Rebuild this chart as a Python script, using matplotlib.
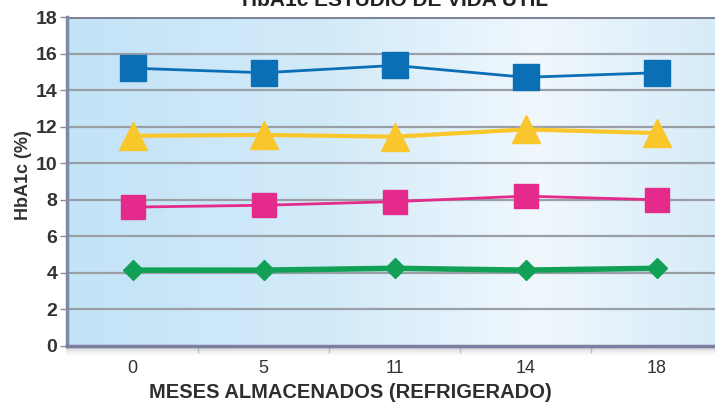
import numpy as np
import matplotlib
matplotlib.use('Agg')
import matplotlib.pyplot as plt
from matplotlib.colors import LinearSegmentedColormap

# months stored (categories on x axis)
meses = ['0', '5', '11', '14', '18']

# HbA1c (%) levels
nivel_alto = [15.2, 14.95, 15.35, 14.7, 14.95]
nivel_medio_alto = [11.5, 11.55, 11.45, 11.85, 11.65]
nivel_medio = [7.6, 7.7, 7.9, 8.2, 8.0]
nivel_bajo = [4.15, 4.15, 4.25, 4.15, 4.25]

yticks = list(range(0, 20, 2))

plt.rcParams['font.family'] = ['Liberation Sans', 'DejaVu Sans']

fig = plt.figure(figsize=(7.15, 4.12), dpi=100)
ax = fig.add_axes([67 / 715, 1 - 346 / 412, 655 / 715, 329 / 412])

x = np.arange(len(meses))

# gradient background
cmap = LinearSegmentedColormap.from_list('fondo', [(0, '#c3e3f7'), (0.4, '#d3ebf9'),
                                                  (0.72, '#f0f7fd'), (1, '#d6ebf8')])
grad = np.linspace(0, 1, 256).reshape(1, -1)
ax.imshow(grad, extent=[-0.5, 4.5, 0, 18], aspect='auto', cmap=cmap, zorder=0)

# horizontal gridlines
for yv in yticks[1:]:
    ax.axhline(yv, color='#9a9fa6', lw=1.6, zorder=1)
ax.axhline(18, color='#7e849a', lw=2.2, zorder=1)

ax.plot(x, nivel_alto, color='#0a6fb5', lw=2, marker='s', ms=18.5,
        markeredgecolor='#0a6fb5', zorder=3)
ax.plot(x, nivel_medio_alto, color='#f9c72c', lw=3, marker='^', ms=19.5,
        markeredgecolor='#f9c72c', zorder=3)
ax.plot(x, nivel_medio, color='#e42a8a', lw=2, marker='s', ms=17,
        markeredgecolor='#e42a8a', zorder=3)
ax.plot(x, nivel_bajo, color='#12a057', lw=4, marker='D', ms=10.5,
        markeredgecolor='#12a057', zorder=3)

ax.set_xlim(-0.5, 4.5)
ax.set_ylim(0, 18)

ax.set_yticks(yticks)
ax.set_yticklabels([str(v) for v in yticks], fontsize=14, fontweight='bold', color='#333333')
ax.tick_params(axis='y', length=5, width=1, color='#8a8f99', pad=2)

ax.set_xticks(x)
ax.set_xticklabels(meses, fontsize=13, color='#333333')
ax.tick_params(axis='x', length=0, pad=10)
ax.set_xticks(np.arange(0.5, 4.5, 1), minor=True)
ax.tick_params(axis='x', which='minor', length=5, width=1, color='#c8cbd0')

for side in ['top', 'right']:
    ax.spines[side].set_visible(False)
ax.spines['left'].set_color('#8088a8')
ax.spines['left'].set_linewidth(2.5)
ax.spines['bottom'].set_color('#7c7fa0')
ax.spines['bottom'].set_linewidth(2.5)
ax.spines['left'].set_zorder(4)
ax.spines['bottom'].set_zorder(4)

# soft shadow under the bottom edge
for i, a in enumerate([0.25, 0.15, 0.08, 0.04]):
    ax.plot([-0.5, 4.5], [-0.12 - 0.1 * i] * 2, color='#505060', lw=1.5, alpha=a,
            clip_on=False, zorder=2)

ax.set_xlabel('MESES ALMACENADOS (REFRIGERADO)', fontsize=14.5, fontweight='bold',
              color='#2e2e2e')
ax.xaxis.set_label_coords((350 - 67) / 655, -0.14)
ax.xaxis.label.set_va('center')
ax.set_ylabel('HbA1c (%)', fontsize=13, fontweight='bold', color='#333333')
ax.yaxis.set_label_coords(-0.053, 0.52)

# title sits mostly above the visible area, as in the reference
fig.text(395 / 715, 1 - 6 / 412, 'HbA1c ESTUDIO DE VIDA ÚTIL', ha='center', va='baseline',
         fontsize=15, fontweight='bold', color='#222222')

fig.savefig('out.png', dpi=100)
